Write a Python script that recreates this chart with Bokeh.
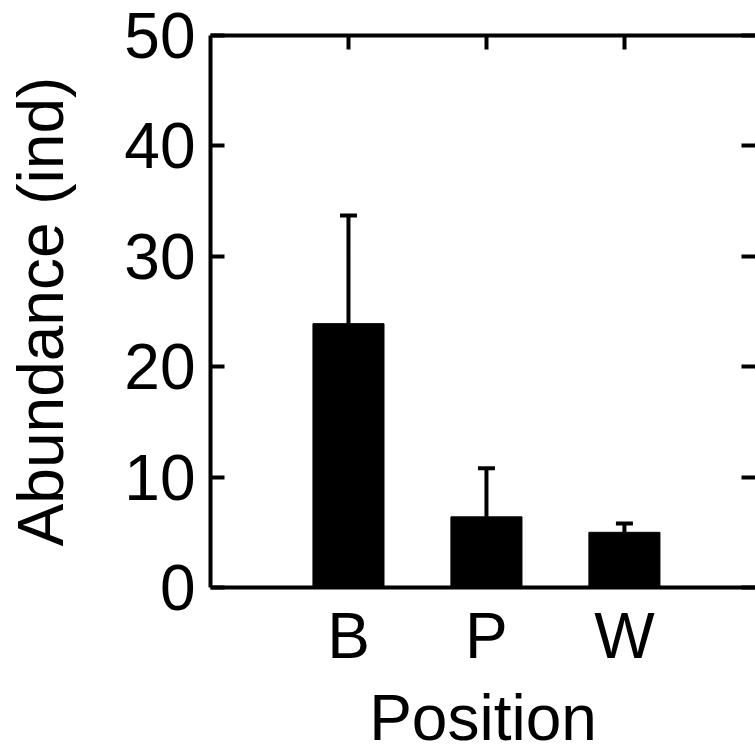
from bokeh.plotting import figure
from bokeh.models import Range1d, LinearAxis, FixedTicker, Whisker, TeeHead, ColumnDataSource
from bokeh.embed import file_html
from bokeh.resources import INLINE

categories = ["B", "P", "W"]
abundance = [23.9, 6.4, 5.0]
error_upper = [33.7, 10.8, 5.8]
y_ticks = [0, 10, 20, 30, 40, 50]
y_label = "Abundance (ind)"
x_label = "Position"

positions = list(range(1, len(categories) + 1))
src = ColumnDataSource(dict(x=positions, top=abundance, upper=error_upper))

FONT = "Liberation Sans"
FS = "64px"

p = figure(frame_width=545, frame_height=552, output_backend="svg", toolbar_location=None,
           x_range=Range1d(0, 3.95), y_range=Range1d(0, 50),
           x_axis_location=None, y_axis_location=None,
           min_border_left=210, min_border_right=0, min_border_top=35, min_border_bottom=0)
p.outline_line_color = None
p.background_fill_color = "white"
p.border_fill_color = "white"
for g in p.grid:
    g.visible = False

p.vbar(x="x", top="top", bottom=0, width=0.515, source=src,
       fill_color="black", line_color="black", line_width=1)

wh = Whisker(base="x", lower="top", upper="upper", source=src, line_color="black", line_width=4,
             upper_head=TeeHead(size=17, line_width=4, line_color="black"), lower_head=None)
p.add_layout(wh)


def style(ax):
    ax.axis_line_width = 4
    ax.axis_line_color = "black"
    ax.major_tick_line_width = 4
    ax.major_tick_line_color = "black"
    ax.minor_tick_line_width = 4
    ax.minor_tick_line_color = "black"
    ax.major_label_text_font = FONT
    ax.major_label_text_font_size = FS
    ax.major_label_text_color = "black"
    ax.axis_label_text_font = FONT
    ax.axis_label_text_font_size = FS
    ax.axis_label_text_font_style = "normal"
    ax.axis_label_text_color = "black"
    ax.major_tick_out = 0
    ax.minor_tick_out = 0


left = LinearAxis(ticker=FixedTicker(ticks=y_ticks, minor_ticks=[]), axis_label=y_label)
style(left)
left.major_tick_in = 14
left.minor_tick_in = 0
left.major_label_standoff = 15
left.axis_label_standoff = 44
p.add_layout(left, "left")

# right side: ticks only (minor ticks, so no labels are drawn)
right = LinearAxis(ticker=FixedTicker(ticks=[], minor_ticks=y_ticks))
style(right)
right.axis_line_color = None
right.minor_tick_in = 14
right.major_label_standoff = 0
p.add_layout(right, "right")

# top side: ticks only at category positions
top = LinearAxis(ticker=FixedTicker(ticks=[], minor_ticks=positions))
style(top)
top.minor_tick_in = 14
top.major_label_standoff = 0
p.add_layout(top, "above")

bottom = LinearAxis(ticker=FixedTicker(ticks=positions, minor_ticks=[]), axis_label=x_label,
                    major_label_overrides={pos: c for pos, c in zip(positions, categories)})
style(bottom)
bottom.major_tick_in = 0
bottom.major_tick_line_color = None
bottom.major_label_standoff = 12
bottom.axis_label_standoff = 7
p.add_layout(bottom, "below")

open("out.html", "w").write(file_html(p, INLINE))
